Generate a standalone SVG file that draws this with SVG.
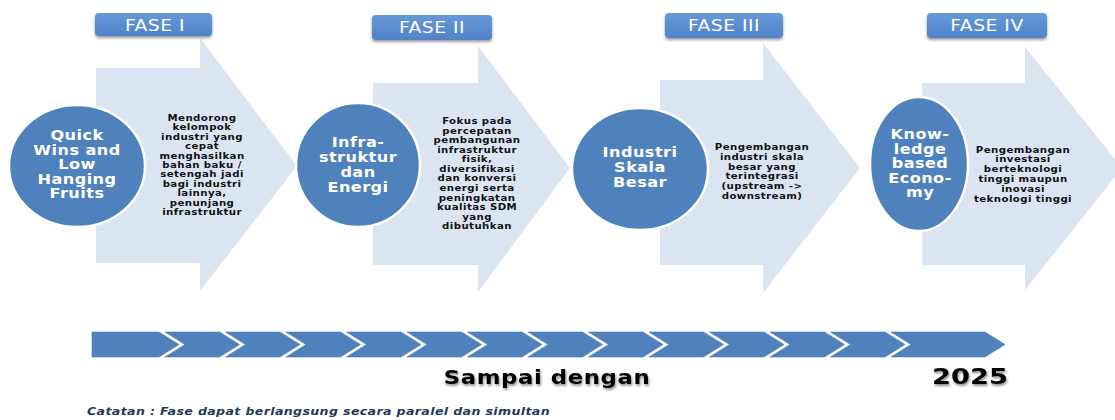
<svg xmlns="http://www.w3.org/2000/svg" width="1115" height="420" viewBox="0 0 1115 420">
<defs>
<style>
.arrow{fill:#dbe5f1}
.circ{fill:#4f81bd;stroke:#ffffff;stroke-width:2.5}
.fbox{fill:url(#fg);filter:url(#sh)}
.ftxt{font-family:"DejaVu Sans",Verdana,sans-serif;font-size:15px;fill:#ffffff;letter-spacing:0.4px;text-anchor:middle}
.ctxt{font-family:"DejaVu Sans",Verdana,sans-serif;font-size:14px;font-weight:bold;fill:#ffffff;letter-spacing:0.4px;text-anchor:middle}
.dtxt{font-family:"DejaVu Sans",Verdana,sans-serif;font-size:8.5px;font-weight:bold;fill:#111111;letter-spacing:0.35px;text-anchor:middle}
.chev{fill:#4f81bd;stroke:#4a7cb9;stroke-width:0.6}
.big{font-family:"DejaVu Sans",Verdana,sans-serif;font-weight:bold;fill:#000000;filter:url(#tsh);text-anchor:middle}
.note{font-family:"DejaVu Sans",Verdana,sans-serif;font-size:10.5px;font-weight:bold;font-style:italic;fill:#1f3a60;letter-spacing:0.3px}
</style>
<linearGradient id="fg" x1="0" y1="0" x2="0" y2="1">
<stop offset="0" stop-color="#6699d8"/>
<stop offset="1" stop-color="#4f83c8"/>
</linearGradient>
<filter id="sh" x="-10%" y="-20%" width="120%" height="160%">
<feGaussianBlur in="SourceAlpha" stdDeviation="1.5"/>
<feOffset dx="0" dy="2" result="b"/>
<feComponentTransfer><feFuncA type="linear" slope="0.4"/></feComponentTransfer>
<feMerge><feMergeNode/><feMergeNode in="SourceGraphic"/></feMerge>
</filter>
<filter id="tsh" x="-5%" y="-30%" width="110%" height="170%">
<feGaussianBlur in="SourceAlpha" stdDeviation="1.2"/>
<feOffset dx="1" dy="2" result="b"/>
<feComponentTransfer><feFuncA type="linear" slope="0.45"/></feComponentTransfer>
<feMerge><feMergeNode/><feMergeNode in="SourceGraphic"/></feMerge>
</filter>
<path id="chevMid" d="M-14,0 L40.5,0 L60.5,12.5 L40.5,25 L-14,25 L6,12.5 Z"/>
</defs>

<rect width="1115" height="420" fill="#ffffff"/>

<g id="phase1">
<polygon class="arrow" points="96,68 200,68 200,38 297,166 200,291 200,263 96,263"/>
<rect class="fbox" x="95" y="13" width="117" height="23" rx="4"/>
<g transform="translate(155,0) scale(1.25,1)"><text class="ftxt" x="0" y="31.5">FASE I</text></g>
<ellipse class="circ" cx="77" cy="166" rx="68" ry="61"/>
<g transform="translate(77,0) scale(1.15,1)">
<text class="ctxt" x="0" y="140">Quick</text>
<text class="ctxt" x="0" y="155">Wins and</text>
<text class="ctxt" x="0" y="169.5">Low</text>
<text class="ctxt" x="0" y="184">Hanging</text>
<text class="ctxt" x="0" y="198.5">Fruits</text>
</g>
<g transform="translate(202,0) scale(1.2,1)">
<text class="dtxt" x="0" y="121">Mendorong</text>
<text class="dtxt" x="0" y="130.4">kelompok</text>
<text class="dtxt" x="0" y="139.8">industri yang</text>
<text class="dtxt" x="0" y="149.2">cepat</text>
<text class="dtxt" x="0" y="158.6">menghasilkan</text>
<text class="dtxt" x="0" y="168">bahan baku /</text>
<text class="dtxt" x="0" y="177.4">setengah jadi</text>
<text class="dtxt" x="0" y="186.8">bagi industri</text>
<text class="dtxt" x="0" y="196.2">lainnya,</text>
<text class="dtxt" x="0" y="205.6">penunjang</text>
<text class="dtxt" x="0" y="215">infrastruktur</text>
</g>
</g>

<g id="phase2">
<polygon class="arrow" points="373,83 478,83 478,46 570,168 478,292 478,265 373,265"/>
<rect class="fbox" x="372" y="15" width="120" height="25" rx="4"/>
<g transform="translate(432,0) scale(1.25,1)"><text class="ftxt" x="0" y="33.5">FASE II</text></g>
<ellipse class="circ" cx="358" cy="165" rx="62" ry="62"/>
<g transform="translate(358,0) scale(1.15,1)">
<text class="ctxt" x="0" y="147">Infra-</text>
<text class="ctxt" x="0" y="162">struktur</text>
<text class="ctxt" x="0" y="177">dan</text>
<text class="ctxt" x="0" y="192">Energi</text>
</g>
<g transform="translate(477,0) scale(1.2,1)">
<text class="dtxt" x="0" y="124">Fokus pada</text>
<text class="dtxt" x="0" y="133.6">percepatan</text>
<text class="dtxt" x="0" y="143.2">pembangunan</text>
<text class="dtxt" x="0" y="152.7">infrastruktur</text>
<text class="dtxt" x="0" y="162.3">fisik,</text>
<text class="dtxt" x="0" y="171.9">diversifikasi</text>
<text class="dtxt" x="0" y="181.4">dan konversi</text>
<text class="dtxt" x="0" y="191">energi serta</text>
<text class="dtxt" x="0" y="200.6">peningkatan</text>
<text class="dtxt" x="0" y="210.1">kualitas SDM</text>
<text class="dtxt" x="0" y="219.7">yang</text>
<text class="dtxt" x="0" y="229.3">dibutuhkan</text>
</g>
</g>

<g id="phase3">
<polygon class="arrow" points="660,80 763,80 763,43 860,168 763,293 763,265 660,265"/>
<rect class="fbox" x="665" y="13" width="118" height="25" rx="4"/>
<g transform="translate(724,0) scale(1.25,1)"><text class="ftxt" x="0" y="31.5">FASE III</text></g>
<ellipse class="circ" cx="640" cy="169" rx="68" ry="61"/>
<g transform="translate(640,0) scale(1.15,1)">
<text class="ctxt" x="0" y="157">Industri</text>
<text class="ctxt" x="0" y="172">Skala</text>
<text class="ctxt" x="0" y="187">Besar</text>
</g>
<g transform="translate(762,0) scale(1.2,1)">
<text class="dtxt" x="0" y="150">Pengembangan</text>
<text class="dtxt" x="0" y="159.8">industri skala</text>
<text class="dtxt" x="0" y="169.6">besar yang</text>
<text class="dtxt" x="0" y="179.4">terintegrasi</text>
<text class="dtxt" x="0" y="189.2">(upstream -&gt;</text>
<text class="dtxt" x="0" y="199">downstream)</text>
</g>
</g>

<g id="phase4">
<polygon class="arrow" points="922,83 1025,83 1025,47 1122,168 1025,290 1025,265 922,265"/>
<rect class="fbox" x="927" y="13" width="120" height="25" rx="4"/>
<g transform="translate(987,0) scale(1.25,1)"><text class="ftxt" x="0" y="31.5">FASE IV</text></g>
<ellipse class="circ" cx="919" cy="164" rx="49" ry="67"/>
<g transform="translate(920,0) scale(1.15,1)">
<text class="ctxt" x="0" y="139.5">Know-</text>
<text class="ctxt" x="0" y="154">ledge</text>
<text class="ctxt" x="0" y="168.5">based</text>
<text class="ctxt" x="0" y="183">Econo-</text>
<text class="ctxt" x="0" y="197.5">my</text>
</g>
<g transform="translate(1023,0) scale(1.2,1)">
<text class="dtxt" x="0" y="152.7">Pengembangan</text>
<text class="dtxt" x="0" y="162.5">investasi</text>
<text class="dtxt" x="0" y="172.3">berteknologi</text>
<text class="dtxt" x="0" y="182.1">tinggi maupun</text>
<text class="dtxt" x="0" y="191.9">inovasi</text>
<text class="dtxt" x="0" y="201.7">teknologi tinggi</text>
</g>
</g>

<g id="timeline">
<polygon class="chev" points="92,332 159,332 179,344.5 159,357 92,357"/>
<use href="#chevMid" class="chev" transform="translate(179,332)"/>
<use href="#chevMid" class="chev" transform="translate(239.5,332)"/>
<use href="#chevMid" class="chev" transform="translate(300,332)"/>
<use href="#chevMid" class="chev" transform="translate(360.5,332)"/>
<use href="#chevMid" class="chev" transform="translate(421,332)"/>
<use href="#chevMid" class="chev" transform="translate(481.5,332)"/>
<use href="#chevMid" class="chev" transform="translate(542,332)"/>
<use href="#chevMid" class="chev" transform="translate(602.5,332)"/>
<use href="#chevMid" class="chev" transform="translate(663,332)"/>
<use href="#chevMid" class="chev" transform="translate(723.5,332)"/>
<use href="#chevMid" class="chev" transform="translate(784,332)"/>
<use href="#chevMid" class="chev" transform="translate(844.5,332)"/>
<polygon class="chev" points="891,332 985,332 1005,344.5 985,357 891,357 911,344.5"/>
</g>

<g id="labels">
<g transform="translate(547,0) scale(1.2,1)"><text class="big" x="0" y="384" font-size="19" letter-spacing="0.5">Sampai dengan</text></g>
<g transform="translate(970,0) scale(1.3,1)"><text class="big" x="0" y="384" font-size="21">2025</text></g>
<g transform="translate(87,0) scale(1.2,1)"><text class="note" x="0" y="415.5">Catatan : Fase dapat berlangsung secara paralel dan simultan</text></g>
</g>
</svg>
